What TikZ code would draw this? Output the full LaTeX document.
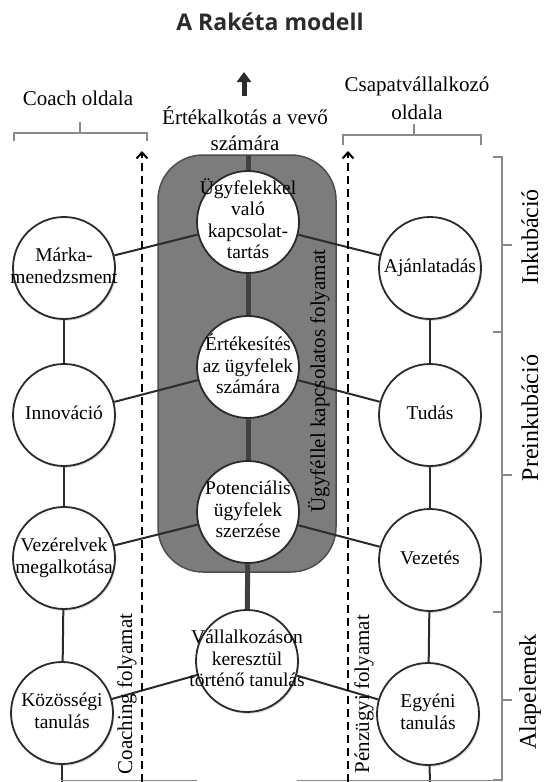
\documentclass[tikz,border=0pt]{standalone}
\usepackage{fontspec}
\setmainfont{Liberation Serif}
\newfontfamily\titlefont{Open Sans}
\usetikzlibrary{arrows.meta,shadows}
\pgfdeclarelayer{boxlayer}
\pgfdeclarelayer{linelayer}
\pgfsetlayers{boxlayer,linelayer,main}
\newcommand{\ctext}[1]{\makebox[0pt]{\begin{tabular}{@{}c@{}}#1\end{tabular}}}
\definecolor{lineC}{HTML}{2B2B2B}
\definecolor{boxC}{HTML}{7C7C7C}
\definecolor{boxB}{HTML}{4E4E4E}
\definecolor{brkC}{HTML}{8A8A8A}
\begin{document}
\begin{tikzpicture}[x=1pt,y=-1pt,
  circ/.style={circle, draw=lineC, line width=1.8pt, fill=white, minimum size=102pt, inner sep=0pt,
    font=\fontsize{19.5}{21.5}\selectfont,
    drop shadow={opacity=0.3, shadow xshift=1.2pt, shadow yshift=-1.8pt}},
  conn/.style={draw=lineC, line width=2pt},
  spine/.style={draw=lineC!90!white, line width=5pt},
  brk/.style={draw=brkC, line width=1.6pt},
  hdr/.style={font=\fontsize{21}{26}\selectfont, align=center, inner sep=0pt},
  vlabel/.style={font=\fontsize{21}{24}\selectfont, rotate=90, inner sep=0pt},
  phase/.style={font=\fontsize{24}{26}\selectfont, rotate=90, inner sep=0pt},
  dasharr/.style={draw=black, line width=2.2pt, dash pattern=on 8pt off 5pt,
    -{Straight Barb[length=6pt,width=11pt,line width=2pt]}}
]
\useasboundingbox (0,0) rectangle (547,782);

% title
\node[font=\titlefont\bfseries\fontsize{23}{26}\selectfont, text=lineC] (title) at (270,22) {A Rakéta modell};

% headers
\node[hdr] (coach) at (78,98) {Coach oldala};
\node[hdr] (ertek1) at (245,116) {Értékalkotás a vevő};
\node[hdr] (ertek2) at (245,143) {számára};
\node[hdr] (csap1) at (417,86) {Csapatvállalkozó};
\node[hdr] (csap2) at (417,112) {oldala};

% header braces
\draw[brk] (14,141) -- (14,133) -- (147,133) -- (147,141);
\draw[brk] (80,133) -- (80,122);
\draw[brk] (343,145) -- (343,135) -- (481,135) -- (481,145);
\draw[brk] (414,135) -- (414,124);

% value arrow
\coordinate (arrb) at (244,96);
\coordinate (arrt) at (244,72);
\draw[lineC, line width=5pt, -{Triangle[length=10pt,width=14pt]}] (arrb) -- (arrt);

% grey customer process box
\begin{pgfonlayer}{boxlayer}
\draw[fill=boxC, draw=boxB, line width=1.5pt, rounded corners=45pt] (158,155) rectangle (336,572);
\end{pgfonlayer}
\node[vlabel] (ugyf) at (319,381) {Ügyféllel kapcsolatos folyamat};

% circles
\node[circ] (M) at (64,268) {\ctext{Márka-\\menedzsment}};
\node[circ] (I) at (64,415) {\ctext{Innováció}};
\node[circ] (V) at (64,558) {\ctext{Vezérelvek\\megalkotása}};
\node[circ] (K) at (62,713) {\ctext{Közösségi\\tanulás}};

\node[circ] (U) at (248,222) {\ctext{Ügyfelekkel\\való\\kapcsolat-\\tartás}};
\node[circ] (E) at (248,367) {\ctext{Értékesítés\\az ügyfelek\\számára}};
\node[circ] (P) at (248,512) {\ctext{Potenciális\\ügyfelek\\szerzése}};
\node[circ] (Vl) at (247,661) {\ctext{Vállalkozáson\\keresztül\\történő tanulás}};

\node[circ] (A) at (430,268) {\ctext{Ajánlatadás}};
\node[circ] (T) at (430,415) {\ctext{Tudás}};
\node[circ] (Vz) at (430,560) {\ctext{Vezetés}};
\node[circ] (Eg) at (428,714) {\ctext{Egyéni\\tanulás}};

% coordinates for free ends
\coordinate (boxtop) at (248,155);
\coordinate (Kbot) at (62,782);
\coordinate (Egbot) at (430,782);

\begin{pgfonlayer}{linelayer}
% spine
\draw[spine] (boxtop) -- (U);
\draw[spine] (U) -- (E);
\draw[spine] (E) -- (P);
\draw[spine] (P) -- (Vl);
% side columns
\draw[conn] (M) -- (I);
\draw[conn] (I) -- (V);
\draw[conn] (V) -- (K);
\draw[conn] (K) -- (Kbot);
\draw[conn] (A) -- (T);
\draw[conn] (T) -- (Vz);
\draw[conn] (Vz) -- (Eg);
\draw[conn] (Eg) -- (Egbot);
% cross links
\draw[conn] (M) -- (U);
\draw[conn] (U) -- (A);
\draw[conn] (I) -- (E);
\draw[conn] (E) -- (T);
\draw[conn] (V) -- (P);
\draw[conn] (P) -- (Vz);
\draw[conn] (K) -- (Vl);
\draw[conn] (Vl) -- (Eg);
% bottom edge
\draw[brk, line width=1.2pt] (61,780.5) -- (197,780.5);
\draw[brk, line width=1.2pt] (297,780.5) -- (495,780.5);
\end{pgfonlayer}

% process arrows
\coordinate (cb) at (142,782);
\coordinate (ct) at (142,151);
\coordinate (pb) at (348,782);
\coordinate (pt) at (348,151);
\draw[dasharr] (cb) -- (ct);
\draw[dasharr] (pb) -- (pt);
\node[vlabel] (coachf) at (127,694) {Coaching folyamat};
\node[vlabel] (penzf) at (364,694) {Pénzügyi folyamat};

% phase bracket
\draw[brk] (493,157) -- (502,157) -- (502,780) -- (493,780);
\draw[brk] (502,332) -- (493,332);
\draw[brk] (502,612) -- (493,612);
\draw[brk] (502,245) -- (512,245);
\draw[brk] (502,475) -- (512,475);
\draw[brk] (502,700) -- (512,700);
\node[phase] (inku) at (530,237) {Inkubáció};
\node[phase] (prei) at (530,418) {Preinkubáció};
\node[phase] (alap) at (530,692) {Alapelemek};
\end{tikzpicture}
\end{document}
